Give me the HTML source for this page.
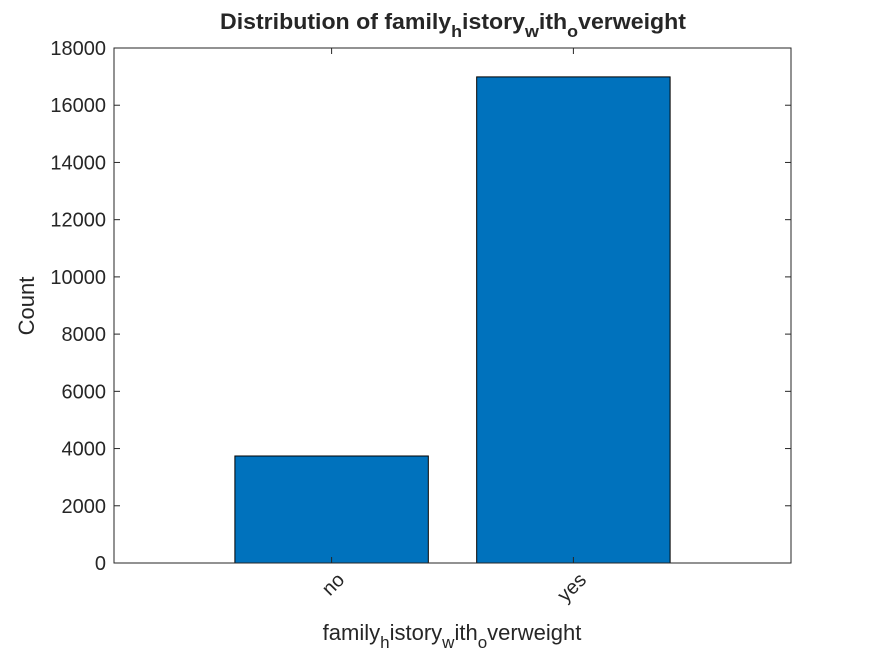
<!DOCTYPE html>
<html><head><meta charset="utf-8"><style>
html,body{margin:0;padding:0;background:#fff}
svg text{font-family:"Liberation Sans",Arial,sans-serif;fill:#262626}
</style></head><body>
<svg id="chart" width="875" height="656" viewBox="0 0 875 656">
<rect width="875" height="656" fill="#fff"/>
<g id="plot"></g>
</svg>
<script>
const categories = ["no","yes"];
const counts = [3740, 16990];
const yTicks = [0,2000,4000,6000,8000,10000,12000,14000,16000,18000];

const L=114,R=791,T=48,B=563;
const xMin=0.1,xMax=2.9,yMin=0,yMax=18000;
const xs=v=>L+(v-xMin)/(xMax-xMin)*(R-L);
const ys=v=>B-(v-yMin)/(yMax-yMin)*(B-T);
const NS="http://www.w3.org/2000/svg";
const g=document.getElementById('plot');
function el(tag,attrs,parent){const e=document.createElementNS(NS,tag);for(const k in attrs)e.setAttribute(k,attrs[k]);(parent||g).appendChild(e);return e;}

categories.forEach((c,i)=>{
  const x0=xs(i+1-0.4),x1=xs(i+1+0.4),y=ys(counts[i]);
  const r=el('rect',{x:x0,y:y,width:x1-x0,height:B-y,fill:'#0072BD',stroke:'#000','stroke-width':1});
  
  
});

const box=el('rect',{x:L,y:T,width:R-L,height:B-T,fill:'none',stroke:'#262626','stroke-width':1});



yTicks.forEach(t=>{
  const y=ys(t);
  el('line',{x1:L,x2:L+6,y1:y,y2:y,stroke:'#262626'});
  el('line',{x1:R,x2:R-6,y1:y,y2:y,stroke:'#262626'});
  const tx=el('text',{x:L-8,y:y+7,'text-anchor':'end','font-size':20});
  tx.textContent=t;
  
  
});

categories.forEach((c,i)=>{
  const x=xs(i+1);
  el('line',{x1:x,x2:x,y1:B,y2:B-6,stroke:'#262626'});
  el('line',{x1:x,x2:x,y1:T,y2:T+6,stroke:'#262626'});
  const ax=x+14, ay=B+18;
  const tx=el('text',{x:ax,y:ay,'text-anchor':'end','font-size':20,transform:`rotate(-45 ${ax} ${ay})`});
  tx.textContent=c;
  
  
});
</script>
<svg width="875" height="656" style="position:absolute;left:0;top:0">
<text x="453" y="29" text-anchor="middle" font-size="22" font-weight="bold" textLength="466" lengthAdjust="spacingAndGlyphs">Distribution of family<tspan font-size="17" dy="8">h</tspan><tspan dy="-8">istory</tspan><tspan font-size="17" dy="8">w</tspan><tspan dy="-8">ith</tspan><tspan font-size="17" dy="8">o</tspan><tspan dy="-8">verweight</tspan></text>
<text x="452" y="640" text-anchor="middle" font-size="22">family<tspan font-size="17" dy="8">h</tspan><tspan dy="-8">istory</tspan><tspan font-size="17" dy="8">w</tspan><tspan dy="-8">ith</tspan><tspan font-size="17" dy="8">o</tspan><tspan dy="-8">verweight</tspan></text>
<text x="34" y="306" text-anchor="middle" font-size="22" transform="rotate(-90 34 306)">Count</text>
</svg>
</body></html>
